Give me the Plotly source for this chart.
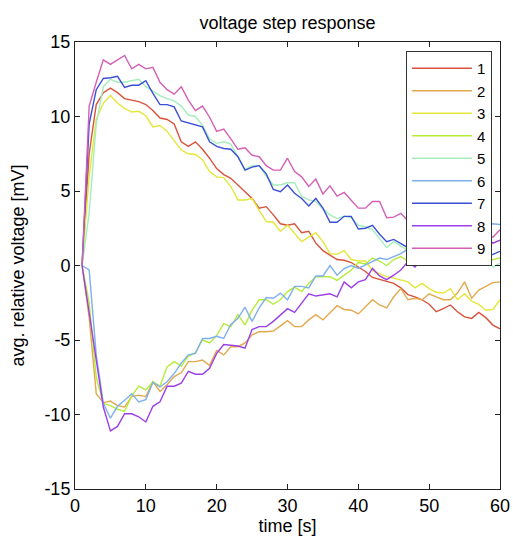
import plotly.graph_objects as go

time_s = list(range(1, 61))

s1 = [0, 7.5, 10.8, 11.6, 11.9, 11.6, 11.2, 11.1, 11.0, 10.8,
      10.4, 9.9, 9.8, 9.5, 8.3, 8.0, 8.3, 7.8, 7.2, 6.5,
      6.1, 5.85, 5.4, 4.95, 4.5, 3.85, 3.95, 3.4, 2.8, 2.7,
      2.8, 2.2, 2.3, 1.5, 1.0, 0.7, 0.4, 0.35, 0.2, -0.1,
      -0.4, -0.8, -0.95, -1.05, -1.2, -1.5, -1.95, -2.1, -2.3, -2.6,
      -3.1, -2.9, -2.65, -3.1, -3.45, -3.55, -3.15, -3.5, -4.0, -4.25]
s2 = [0, -3.5, -8.6, -9.2, -9.1, -9.4, -9.5, -8.8, -8.7, -8.8,
      -7.8, -8.45, -8.0, -7.45, -7.2, -6.45, -6.45, -6.35, -6.7, -5.7,
      -6.0, -5.45, -5.45, -5.2, -4.65, -4.45, -4.45, -4.4, -4.05, -3.7,
      -4.1, -4.1, -3.65, -3.3, -3.65, -3.2, -2.7, -2.95, -3.0, -3.25,
      -2.8, -2.3, -2.65, -2.85, -2.1, -1.55, -2.3, -2.2, -2.3, -1.9,
      -2.1, -2.3, -2.3, -1.85, -1.1, -2.2, -1.65, -1.4, -1.15, -1.1]
s3 = [0, 6.0, 9.8, 10.9, 11.4, 10.9, 10.55, 10.3, 10.35, 10.05,
      9.3, 9.4, 9.0, 8.4, 7.75, 7.5, 7.45, 7.1, 6.3, 5.95,
      5.9, 5.3, 4.4, 4.4, 4.5, 3.7, 2.95, 2.9, 2.3, 2.7,
      2.15, 1.6, 1.9, 2.2, 1.6, 0.8, 0.75, 1.0, 0.4, 0.3,
      0.3, -0.35, -0.55, -0.75, -0.85, -0.95, -1.1, -1.5, -1.2, -1.55,
      -1.8, -1.85, -1.55, -2.3, -1.9, -2.4, -2.6, -3.0, -2.95, -2.3]
s4 = [0, -2.5, -7.5, -9.25, -9.4, -9.65, -9.8, -8.75, -8.1, -8.35,
      -7.8, -8.1, -6.8, -6.45, -6.75, -6.1, -5.85, -5.0, -5.2, -4.7,
      -3.9, -4.1, -3.3, -4.0, -3.0, -2.3, -2.3, -2.6, -2.3, -1.75,
      -1.45, -1.75, -1.2, -0.75, -0.75, -0.75, -1.0, -0.65, -0.3, 0.2,
      0.1, 0.5, 0.3, 0.0, 0.4, 0.6, 0.3, 0.5, 0.2, 0.4,
      0.1, 0.3, 0.5, 0.2, 0.4, 0.6, 0.3, 0.1, 0.4, 0.5]
s5 = [0, 3.5, 9.5, 12.0, 12.5, 12.3, 12.3, 12.4, 12.5, 12.0,
      11.7, 11.4, 11.2, 11.05, 10.7, 10.1, 10.0, 9.4, 8.5, 8.2,
      8.3, 8.15, 7.3, 6.45, 6.7, 6.7, 6.0, 5.4, 5.4, 5.55,
      5.55, 4.65, 4.4, 4.3, 3.8, 3.4, 3.15, 3.3, 3.2, 2.7,
      2.6, 2.4, 1.8, 1.2, 1.6, 1.3, 1.0, 1.2, 0.8, 0.9,
      0.6, 0.8, 0.5, 0.7, 0.4, 0.5, 0.3, 0.5, -0.1, 0.15]
s6 = [0, -0.3, -6.0, -9.25, -10.25, -9.45, -9.05, -8.6, -9.15, -9.0,
      -7.85, -8.15, -7.8, -7.25, -6.55, -6.0, -5.9, -4.9, -4.9, -4.75,
      -4.9, -3.95, -3.55, -2.8, -3.75, -2.85, -2.15, -2.2, -1.85, -2.3,
      -1.4, -1.4, -1.5, -0.7, -0.7, 0.0, -0.65, -0.2, 0.0, -0.2,
      0.05, 0.3, 0.5, 0.4, 0.6, 0.8, 1.1, 1.0, 1.4, 1.5,
      1.8, 1.7, 2.0, 2.2, 2.1, 2.4, 2.5, 2.7, 2.8, 2.75]
s7 = [0, 9.5, 11.8, 12.55, 12.6, 12.7, 11.95, 12.1, 12.1, 12.4,
      11.55, 10.8, 10.8, 10.65, 9.7, 9.55, 9.45, 9.3, 8.3, 8.0,
      7.85, 7.8, 7.3, 6.4, 6.6, 6.7, 6.15, 5.1, 4.95, 5.4,
      4.85, 4.5, 4.0, 4.5, 3.85, 2.9, 2.9, 3.3, 3.3, 2.45,
      2.5, 2.7, 2.1, 1.6, 1.75, 1.5, 1.2, 1.4, 1.0, 0.6,
      0.5, 0.6, 0.8, 0.7, 0.5, 0.6, 0.25, 0.6, 0.75, 0.95]
s8 = [0, -3.2, -6.3, -9.5, -11.1, -10.8, -9.95, -9.95, -10.15, -10.5,
      -9.45, -9.15, -8.1, -8.1, -7.9, -7.1, -7.3, -7.3, -6.9, -5.9,
      -5.3, -5.35, -5.4, -5.55, -4.3, -4.1, -4.1, -3.75, -3.3, -2.9,
      -3.15, -2.55, -1.9, -2.05, -2.0, -1.9, -2.1, -1.1, -1.5, -1.1,
      -0.95, -0.2, -0.7, -0.95, -0.65, -0.3, 0.25, -0.1, 0.45, 0.6,
      0.3, 0.3, 0.7, 0.8, 1.0, 1.2, 1.4, 1.8, 1.5, 1.7]
s9 = [0, 10.7, 12.3, 13.8, 13.5, 13.8, 14.1, 13.2, 13.5, 13.2,
      13.3, 12.3, 11.8, 11.5, 12.0, 11.1, 10.4, 10.7, 9.95, 9.0,
      9.15, 8.5, 7.8, 7.9, 7.4, 7.3, 6.7, 6.4, 6.4, 7.2,
      6.3, 5.95, 5.3, 5.8, 4.8, 5.35, 4.65, 4.9, 4.4, 3.85,
      3.85, 4.3, 4.3, 3.2, 3.25, 3.5, 3.0, 3.2, 2.7, 2.9,
      2.5, 2.7, 2.3, 2.5, 2.1, 2.3, 1.9, 2.0, 1.9, 2.4]

series_names = ["1", "2", "3", "4", "5", "6", "7", "8", "9"]
series_values = [s1, s2, s3, s4, s5, s6, s7, s8, s9]
series_colors = ["#d9533c", "#e3a94d", "#e4e63a", "#b5ec3a", "#a5eebb",
                 "#7fb0ee", "#3a4fd6", "#9d3fe6", "#d45fb5"]

x_ticks = [0, 10, 20, 30, 40, 50, 60]
x_tick_labels = ["0", "10", "20", "30", "40", "50", "60"]
y_ticks = [-15, -10, -5, 0, 5, 10, 15]
y_tick_labels = ["-15", "-10", "-5", "0", "5", "10", "15"]

FONT = "Liberation Sans, Arial, Helvetica, sans-serif"

fig = go.Figure()
for name, vals, col in zip(series_names, series_values, series_colors):
    fig.add_trace(go.Scatter(x=time_s, y=vals, mode="lines", name=name,
                             line=dict(color=col, width=1.4)))

axis_common = dict(showgrid=False, zeroline=False, showline=True,
                   linecolor="#222222", linewidth=1, mirror="ticks",
                   ticks="inside", ticklen=5, tickcolor="#222222",
                   automargin=False,
                   tickfont=dict(family=FONT, size=18, color="black"))

fig.update_layout(
    width=513, height=536,
    margin=dict(l=75, r=13, t=42, b=47),
    paper_bgcolor="white", plot_bgcolor="white",
    font=dict(family=FONT, color="black"),
    title=dict(text="voltage step response", x=0.5605, xanchor="center",
               y=0.958, yanchor="middle", font=dict(family=FONT, size=18)),
    xaxis=dict(range=[0, 60], tickvals=x_ticks, ticktext=x_tick_labels,
               title=dict(text="time [s]", font=dict(family=FONT, size=18),
                          standoff=7),
               **axis_common),
    yaxis=dict(range=[-15, 15], tickvals=y_ticks, ticktext=y_tick_labels,
               title=dict(text="avg. relative voltage [mV]",
                          font=dict(family=FONT, size=18), standoff=15),
               **axis_common),
    legend=dict(x=0.981, xanchor="right", y=0.98, yanchor="top",
                bgcolor="white", bordercolor="#333333", borderwidth=1,
                font=dict(family=FONT, size=15, color="black"),
                itemwidth=60, tracegroupgap=0),
    showlegend=True,
)

fig.write_html("out.html")
